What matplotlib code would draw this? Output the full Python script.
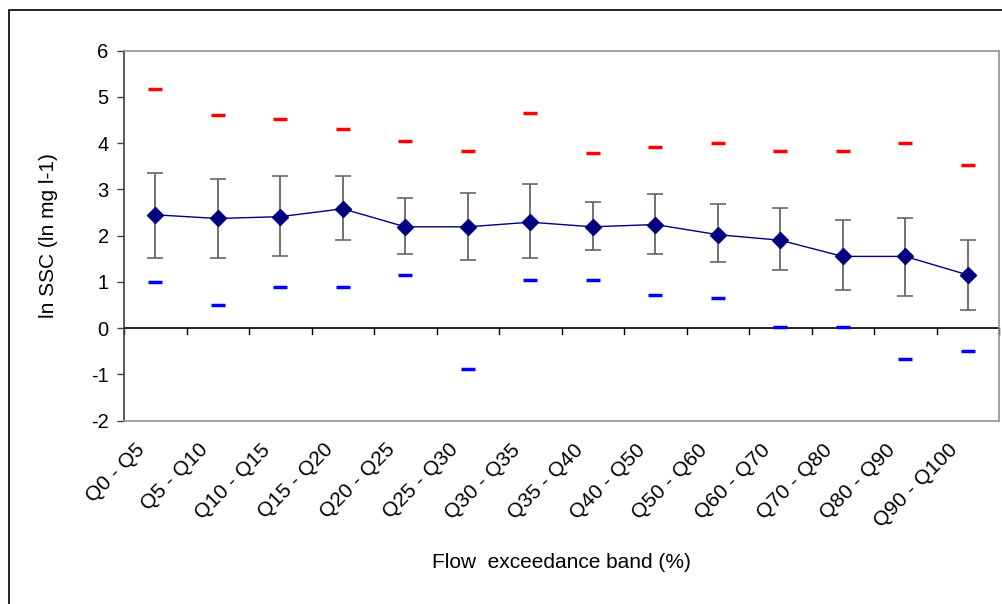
import numpy as np
import matplotlib.pyplot as plt
from matplotlib.patches import Rectangle
import matplotlib.transforms as mtransforms

plt.rcParams['font.family'] = ['Liberation Sans', 'DejaVu Sans']

bands = ["Q0 - Q5", "Q5 - Q10", "Q10 - Q15", "Q15 - Q20", "Q20 - Q25", "Q25 - Q30",
         "Q30 - Q35", "Q35 - Q40", "Q40 - Q50", "Q50 - Q60", "Q60 - Q70", "Q70 - Q80",
         "Q80 - Q90", "Q90 - Q100"]
mean_ssc = [2.45, 2.37, 2.41, 2.58, 2.19, 2.19, 2.29, 2.19, 2.24, 2.02, 1.90, 1.55, 1.55, 1.15]
upper_ssc = [3.36, 3.23, 3.28, 3.28, 2.81, 2.93, 3.11, 2.72, 2.89, 2.68, 2.59, 2.33, 2.37, 1.90]
lower_ssc = [1.51, 1.51, 1.55, 1.90, 1.60, 1.47, 1.51, 1.68, 1.60, 1.42, 1.25, 0.82, 0.69, 0.38]
max_ssc = [5.17, 4.60, 4.52, 4.30, 4.04, 3.82, 4.65, 3.78, 3.91, 4.00, 3.82, 3.82, 4.00, 3.52]
min_ssc = [1.00, 0.49, 0.88, 0.88, 1.14, -0.89, 1.05, 1.05, 0.71, 0.66, 0.02, 0.02, -0.68, -0.50]
yticks = [-2, -1, 0, 1, 2, 3, 4, 5, 6]

x = np.arange(len(bands))
mean = np.array(mean_ssc)
yerr = [mean - np.array(lower_ssc), np.array(upper_ssc) - mean]

fig = plt.figure(figsize=(10.02, 6.04), dpi=100)
ax = fig.add_axes([124 / 1002, 1 - 420.5 / 604, 875 / 1002, 369.8 / 604])

# outer chart border
fig.patches.append(Rectangle((9 / 1002, -0.05), 1.2, 1 - 10 / 604 + 0.05,
                             transform=fig.transFigure, fill=False,
                             edgecolor='black', linewidth=1.2))

ax.axhline(0, color='black', linewidth=1.2, zorder=1)
for b in np.arange(-0.5, len(bands), 1.0):
    ax.plot([b, b], [0, -0.12], color='black', linewidth=1, clip_on=False, zorder=1)

_, caps, bars = ax.errorbar(x, mean, yerr=yerr, fmt='none', ecolor='#666666',
                            elinewidth=1.3, capsize=6, capthick=1.2, zorder=2)
for c in caps:
    c.set_color('black')

ax.plot(x, mean, color='#000080', linewidth=1, marker='D', markersize=8,
        markerfacecolor='#000080', markeredgecolor='#000080', zorder=3)
ax.plot(x, max_ssc, linestyle='none', marker='_', markersize=10,
        markeredgewidth=2.5, color='#ff0000', zorder=3)
ax.plot(x, min_ssc, linestyle='none', marker='_', markersize=10,
        markeredgewidth=2.5, color='#0000ff', zorder=3)

ax.set_xlim(-0.5, len(bands) - 0.5)
ax.set_ylim(-2, 6)
ax.set_yticks(yticks)
ax.set_yticklabels([str(t) for t in yticks], fontsize=14.5)
ax.tick_params(axis='y', direction='out', length=5, width=1, color='#404040', pad=6)

ax.set_xticks(x)
ax.set_xticklabels(bands, rotation=45, ha='right', va='center',
                   rotation_mode='anchor', fontsize=15)
ax.tick_params(axis='x', length=0, pad=19)
offset = mtransforms.ScaledTranslation(-13 / 100, 0, fig.dpi_scale_trans)
for lbl in ax.get_xticklabels():
    lbl.set_transform(lbl.get_transform() + offset)

for side in ['top', 'right', 'bottom']:
    ax.spines[side].set_color('#909090')
    ax.spines[side].set_linewidth(1.2)
ax.spines['left'].set_color('#404040')
ax.spines['left'].set_linewidth(1.2)

ax.set_ylabel('ln SSC (ln mg l-1)', fontsize=15, labelpad=24)
fig.text(561 / 1002, 1 - 562 / 604, 'Flow  exceedance band (%)', fontsize=15,
         ha='center', va='center')

fig.savefig('out.png', dpi=100)
